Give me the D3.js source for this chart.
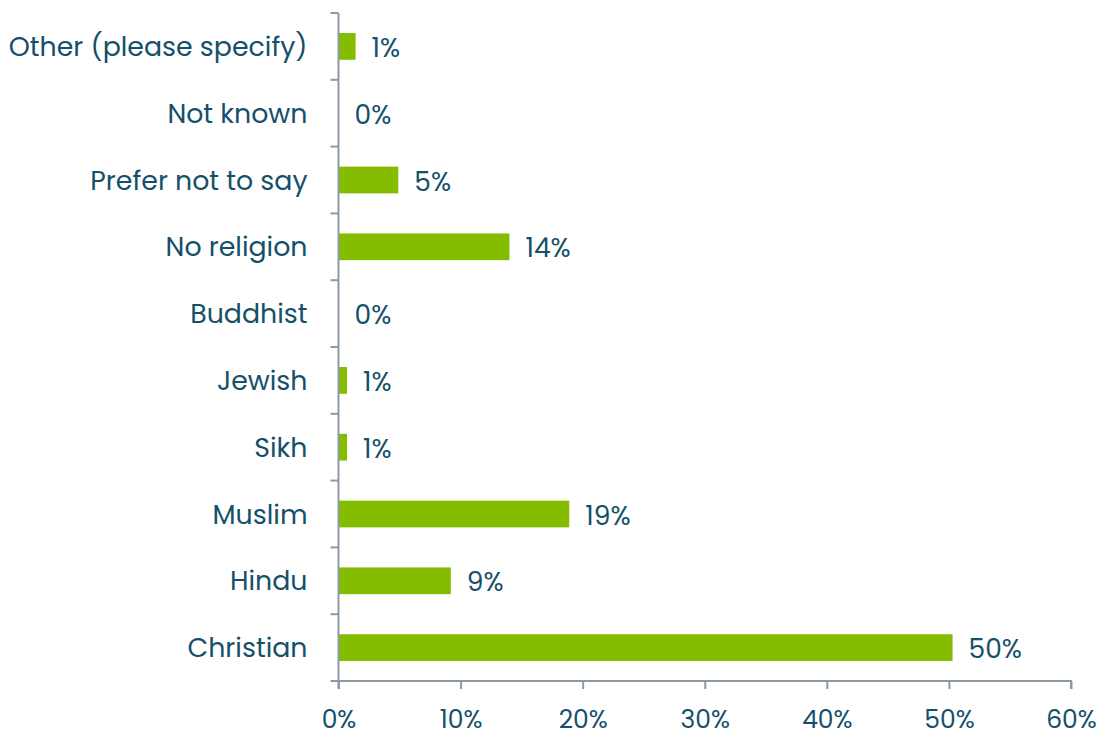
<!DOCTYPE html>
<html>
<head>
<meta charset="utf-8">
<script src="https://cdn.jsdelivr.net/npm/d3@7"></script>
<style>
  html, body { margin: 0; padding: 0; background: #ffffff; }
  svg { display: block; }
</style>
</head>
<body>
<svg id="chart" width="1102" height="736"></svg>
<script>
// Religion breakdown (share of respondents)
const categories = [
  "Other (please specify)",
  "Not known",
  "Prefer not to say",
  "No religion",
  "Buddhist",
  "Jewish",
  "Sikh",
  "Muslim",
  "Hindu",
  "Christian"
];
const shares = [0.014, 0.0, 0.049, 0.140, 0.0, 0.007, 0.007, 0.189, 0.092, 0.503];
const xTicks = [0, 0.1, 0.2, 0.3, 0.4, 0.5, 0.6];

const textColor = "#15506a";
const axisColor = "#8e99a6";
const barColor = "#84bc00";
const fontFamily = "Poppins, 'Open Sans', Lato, sans-serif";

const margin = { top: 13, left: 338.5, right: 31, bottom: 55 };
const width = 1102, height = 736;

const svg = d3.select("#chart");

const x = d3.scaleLinear()
  .domain([0, 0.6])
  .range([margin.left, width - margin.right]);

const y = d3.scaleBand()
  .domain(categories)
  .range([margin.top, height - margin.bottom])
  .paddingInner(0.6)
  .paddingOuter(0.3);

const data = categories.map((c, i) => ({ cat: c, v: shares[i] }));
const pct = d3.format(".0%");

// Bars
svg.append("g")
  .selectAll("rect")
  .data(data)
  .join("rect")
  .attr("x", x(0))
  .attr("y", d => y(d.cat))
  .attr("width", d => x(d.v) - x(0))
  .attr("height", y.bandwidth())
  .attr("fill", barColor);

// Value labels
svg.append("g")
  .selectAll("text")
  .data(data)
  .join("text")
  .attr("x", d => x(d.v) + 16)
  .attr("y", d => y(d.cat) + y.bandwidth() / 2 + 1)
  .attr("dy", "0.36em")
  .attr("fill", textColor)
  .attr("font-family", fontFamily)
  .attr("font-size", 26.5)
  .text(d => pct(d.v));

// Category axis (ticks between categories)
const yAxisG = svg.append("g");
const y0 = margin.top, y1 = height - margin.bottom;
yAxisG.append("line")
  .attr("x1", x(0)).attr("x2", x(0))
  .attr("y1", y0).attr("y2", y1)
  .attr("stroke", axisColor).attr("stroke-width", 2);
yAxisG.selectAll("line.tick")
  .data(d3.range(categories.length + 1))
  .join("line")
  .attr("class", "tick")
  .attr("x1", x(0) - 8).attr("x2", x(0))
  .attr("y1", i => y0 + i * (y1 - y0) / categories.length)
  .attr("y2", i => y0 + i * (y1 - y0) / categories.length)
  .attr("stroke", axisColor).attr("stroke-width", 2);
yAxisG.selectAll("text")
  .data(categories)
  .join("text")
  .attr("x", x(0) - 31)
  .attr("y", d => y(d) + y.bandwidth() / 2)
  .attr("dy", "0.36em")
  .attr("text-anchor", "end")
  .attr("fill", textColor)
  .attr("font-family", fontFamily)
  .attr("font-size", 26.8)
  .text(d => d);

// Value axis
const xAxis = d3.axisBottom(x)
  .tickValues(xTicks)
  .tickFormat(pct)
  .tickSize(8)
  .tickPadding(21);
const xAxisG = svg.append("g")
  .attr("transform", `translate(0,${y1})`)
  .call(xAxis);
xAxisG.select(".domain").attr("stroke", axisColor).attr("stroke-width", 2)
  .attr("d", `M${x(0)},8V0H${x(0.6)}V8`);
xAxisG.selectAll(".tick line").attr("stroke", axisColor).attr("stroke-width", 2);
xAxisG.selectAll(".tick text")
  .attr("fill", textColor)
  .attr("font-family", fontFamily)
  .attr("font-size", 25);
</script>
</body>
</html>
